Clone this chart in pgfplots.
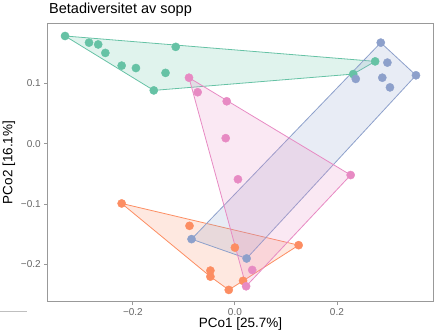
\documentclass[border=0pt]{standalone}
\usepackage{fontspec}
\setmainfont{Liberation Sans}
\usepackage{pgfplots}
\pgfplotsset{compat=1.18}
\definecolor{cgreen}{HTML}{66C2A5}
\definecolor{corange}{HTML}{FC8D62}
\definecolor{cblue}{HTML}{8DA0CB}
\definecolor{cpink}{HTML}{E78AC3}
\begin{document}
\begin{tikzpicture}[x=1pt,y=1pt]
\useasboundingbox (0,0) rectangle (436,331);
\clip (0,0) rectangle (436,331);
\draw[black!25, line width=1.5pt] (0,19.5) -- (27,19.5);
\node[anchor=base west, inner sep=0pt, font=\fontsize{14.5}{17}\selectfont] at (49,317.5) {Betadiversitet av sopp};
\begin{axis}[
  at={(47.7pt,29.3pt)}, anchor=south west,
  scale only axis, width=385.6pt, height=278.4pt,
  xmin=-0.367, xmax=0.389, ymin=-0.2615, ymax=0.199,
  axis line style={black!40, line width=0.8pt},
  tick style={black!40, line width=0.8pt},
  tick align=outside, major tick length=3.5pt, tick pos=left,
  xtick={-0.2,0,0.2}, xticklabels={−0.2,0.0,0.2},
  ytick={-0.2,-0.1,0,0.1}, yticklabels={−0.2,−0.1,0.0,0.1},
  ticklabel style={font=\fontsize{10}{12}\selectfont, text=black!60},
  xlabel={PCo1 [25.7\%]}, ylabel={PCo2 [16.1\%]},
  label style={font=\fontsize{13.5}{16}\selectfont, inner sep=0pt},
  xlabel style={at={(axis description cs:0.5,-0.057)}, anchor=north},
  ylabel style={at={(axis description cs:-0.084,0.5)}, anchor=south},
  clip=false,
]
% hulls
\addplot[draw=cgreen, fill=cgreen, fill opacity=0.2, line width=0.8pt] coordinates {
(-0.333,0.178) (0.275,0.136) (0.232,0.115) (-0.159,0.088)} --cycle;
\addplot[draw=corange, fill=corange, fill opacity=0.2, line width=0.8pt] coordinates {
(-0.222,-0.099) (0.125,-0.168) (0.016,-0.227) (-0.012,-0.242) (-0.048,-0.220)} --cycle;
\addplot[draw=cblue, fill=cblue, fill opacity=0.2, line width=0.8pt] coordinates {
(-0.085,-0.158) (0.023,-0.190) (0.355,0.113) (0.286,0.167)} --cycle;
\addplot[draw=cpink, fill=cpink, fill opacity=0.2, line width=0.8pt] coordinates {
(-0.090,0.109) (0.227,-0.052) (0.022,-0.236)} --cycle;
% points
\addplot[only marks, color=cgreen, mark=*, mark size=4.1pt, mark options={solid, fill=cgreen}] coordinates {
(-0.333,0.178) (-0.286,0.167) (-0.268,0.164) (-0.254,0.150) (-0.222,0.129)
(-0.194,0.125) (-0.136,0.117) (-0.116,0.160) (-0.159,0.088) (0.275,0.136) (0.232,0.115)};
\addplot[only marks, color=corange, mark=*, mark size=4.1pt, mark options={solid, fill=corange}] coordinates {
(-0.222,-0.099) (-0.089,-0.136) (0.000,-0.172) (0.125,-0.168) (-0.048,-0.210)
(-0.048,-0.220) (-0.012,-0.242) (0.016,-0.227)};
\addplot[only marks, color=cblue, mark=*, mark size=4.1pt, mark options={solid, fill=cblue}] coordinates {
(0.286,0.167) (0.299,0.134) (0.355,0.113) (0.289,0.109) (0.304,0.093)
(0.237,0.107) (-0.085,-0.158) (0.023,-0.190)};
\addplot[only marks, color=cpink, mark=*, mark size=4.1pt, mark options={solid, fill=cpink}] coordinates {
(-0.090,0.109) (-0.073,0.085) (-0.016,0.070) (-0.018,0.009) (0.006,-0.059)
(0.227,-0.052) (0.034,-0.209) (0.022,-0.236)};
\end{axis}
\end{tikzpicture}
\end{document}
